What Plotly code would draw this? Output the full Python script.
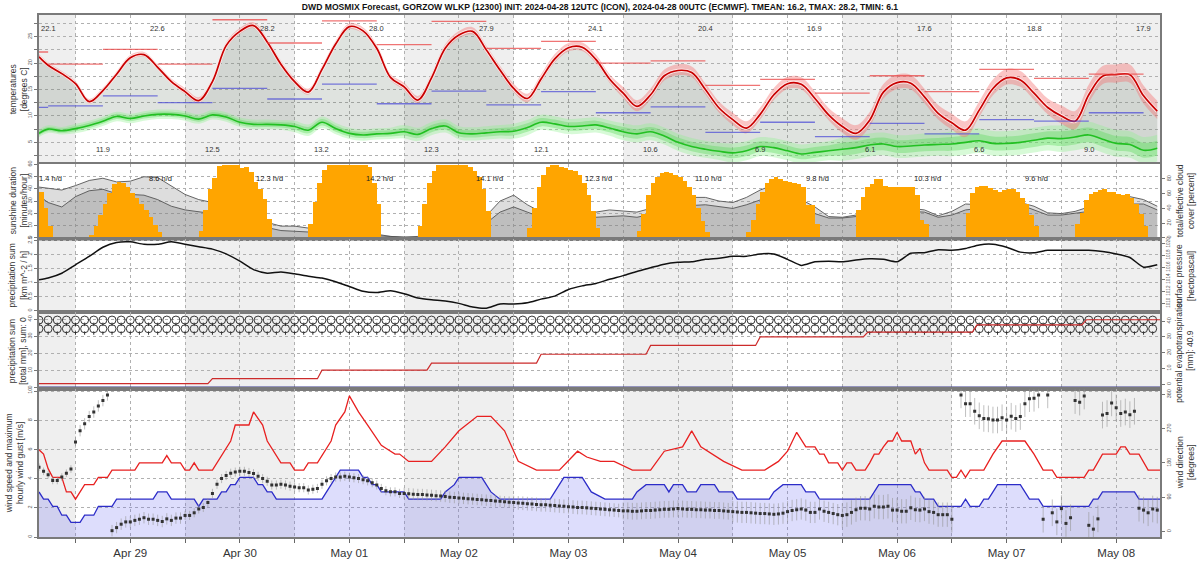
import numpy as np
import pandas as pd
import plotly.graph_objects as go
from plotly.subplots import make_subplots

# ---------------- time base ----------------
BASE = pd.Timestamp("2024-04-28 00:00")
START_H, END_H = 16, 261.6
grid_hours = [16] + list(range(18, 262, 3))

# ---------------- panel 1: temperatures ----------------
temp = [21.2, 19.6, 18.0, 16.1, 12.7, 14.8, 17.9, 21.0, 21.6, 19.2,
        16.5, 14.6, 12.9, 16.5, 23.3, 26.0, 27.1, 24.0, 19.8, 16.5,
        14.5, 18.8, 23.6, 26.9, 26.1, 22.8, 17.3, 15.5, 13.0, 17.2,
        22.8, 25.3, 26.0, 22.5, 18.7, 15.2, 13.3, 17.0, 20.8, 22.9,
        23.0, 20.7, 17.0, 14.3, 11.8, 14.0, 17.6, 18.6, 18.2, 15.0,
        11.5, 9.3, 7.7, 10.3, 14.0, 16.1, 16.0, 13.3, 10.2, 8.0,
        6.7, 9.2, 14.5, 16.3, 16.2, 13.6, 10.5, 8.7, 7.3, 11.1,
        15.2, 17.2, 16.8, 14.3, 11.6, 10.0, 9.0, 14.0, 17.5, 17.8,
        17.8, 13.8, 10.9]
dewpoint = [6.7, 7.5, 7.2, 7.6, 8.2, 9.0, 9.9, 9.5, 10.0, 10.3,
            10.3, 10.0, 9.4, 10.2, 9.8, 8.8, 8.4, 8.4, 8.3, 8.0,
            7.3, 8.8, 7.6, 6.7, 6.4, 6.6, 6.7, 7.0, 6.5, 7.6,
            8.1, 6.8, 6.6, 6.8, 7.0, 7.1, 7.8, 8.8, 8.5, 8.0,
            8.1, 8.3, 7.7, 7.0, 6.6, 7.0, 6.2, 5.0, 4.2, 3.7,
            3.3, 3.0, 3.4, 4.2, 4.0, 3.4, 2.8, 3.1, 3.4, 3.7,
            4.0, 4.5, 4.7, 4.2, 4.3, 4.5, 4.6, 4.7, 5.0, 5.3,
            4.8, 4.8, 5.0, 5.4, 5.8, 5.7, 6.0, 6.4, 5.6, 4.8,
            4.6, 3.5, 3.9]
# ensemble half-spread per calendar day (Apr 28 .. May 08)
temp_spread_day = [0.4, 0.4, 0.5, 0.5, 0.6, 0.7, 0.9, 1.0, 1.2, 1.3, 1.5]
dew_spread_day = [0.4, 0.5, 0.5, 0.6, 0.7, 0.8, 0.9, 1.0, 1.2, 1.3, 1.4]

# 12-hourly max (red) and min (blue) segments, segment k covers [6+12k, 18+12k] h
tmax12 = [22.1, 19.8, 22.6, 19.8, 28.2, 23.8, 28.0, 23.5, 27.9, 22.8, 24.1,
          20.0, 20.4, 15.8, 16.9, 14.3, 17.6, 14.6, 18.8, 17.1, 17.9]
tmin12 = [11.6, 11.9, 13.8, 12.5, 15.2, 13.2, 16.0, 12.3, 14.7, 12.1, 14.6,
          10.6, 11.7, 6.9, 8.8, 6.1, 8.6, 6.6, 9.3, 9.0, 10.6]

# ---------------- panel 2: sunshine / cloud ----------------
sun_start = [16, 27, 51, 75, 99, 123, 147, 171, 195, 219, 243]
sun_minutes = [
    [38, 25, 10],
    [3, 10, 19, 28, 37, 44, 46, 45, 42, 37, 33, 28, 23, 17, 11, 5],
    [6, 23, 40, 49, 59, 60, 60, 60, 60, 57, 58, 54, 46, 40, 32, 16],
    [12, 30, 45, 56, 60, 60, 60, 60, 60, 60, 60, 60, 60, 58, 45, 28],
    [10, 28, 45, 55, 60, 60, 60, 60, 60, 60, 60, 58, 55, 50, 40, 22],
    [8, 25, 42, 52, 58, 60, 60, 58, 57, 56, 55, 52, 45, 35, 22, 8],
    [6, 20, 35, 45, 50, 53, 54, 53, 52, 50, 47, 42, 35, 25, 14, 5],
    [5, 15, 28, 38, 45, 48, 50, 48, 47, 46, 45, 44, 42, 27, 27, 12],
    [23, 34, 42, 44, 48, 48, 43, 42, 42, 42, 42, 42, 42, 35, 15, 12],
    [21, 37, 42, 43, 43, 41, 39, 38, 39, 40, 40, 38, 33, 28, 19, 10],
    [12, 21, 31, 36, 38, 39, 40, 38, 38, 36, 35, 36, 33, 28, 20, 10],
]
sun_daily = [1.4, 8.6, 12.3, 14.2, 14.1, 12.3, 11.0, 9.8, 10.3, 9.6]
cloud_total = [69, 67, 65, 71, 78, 81, 76, 77, 83, 82,
               71, 59, 52, 48, 40, 32, 26, 21, 16, 16,
               13, 10, 8, 7, 6, 5, 2, 1, 2, 3,
               5, 8, 15, 30, 50, 58, 45, 35, 30, 30,
               32, 35, 38, 37, 35, 40, 45, 50, 55, 55,
               50, 48, 55, 65, 72, 68, 52, 42, 29, 28,
               31, 35, 38, 40, 40, 38, 30, 36, 46, 45,
               48, 50, 48, 43, 34, 33, 36, 42, 48, 52,
               56, 52, 43]
cloud_eff = [57, 48, 42, 56, 64, 66, 60, 59, 58, 52,
             43, 38, 36, 33, 28, 22, 18, 14, 10, 9,
             8, 6, 5, 4, 3, 3, 1, 1, 1, 2,
             3, 5, 10, 20, 35, 42, 35, 28, 25, 25,
             27, 28, 30, 30, 28, 32, 36, 40, 44, 45,
             42, 40, 45, 52, 58, 56, 48, 33, 27, 27,
             29, 32, 34, 35, 36, 35, 28, 31, 38, 40,
             42, 44, 45, 38, 31, 31, 33, 36, 40, 43,
             46, 46, 38]

# ---------------- panel 3: pressure ----------------
pressure = [1013.9, 1014.2, 1015.0, 1016.4, 1017.8, 1019.3, 1020.1, 1020.2, 1019.8, 1019.8,
            1020.2, 1019.8, 1019.4, 1019.0, 1018.2, 1017.0, 1015.6, 1015.0, 1015.2, 1014.9,
            1014.5, 1014.2, 1013.6, 1012.8, 1012.0, 1011.8, 1012.1, 1011.6, 1010.9, 1010.6,
            1010.4, 1010.0, 1009.4, 1009.2, 1009.9, 1009.9, 1010.1, 1010.7, 1011.2, 1012.3,
            1012.9, 1013.3, 1014.0, 1014.6, 1015.3, 1015.9, 1016.5, 1016.8, 1016.9, 1017.3,
            1017.5, 1017.8, 1017.8, 1018.2, 1018.2, 1017.3, 1016.3, 1016.9, 1017.0, 1016.9,
            1017.2, 1017.4, 1017.3, 1016.9, 1018.3, 1018.4, 1018.9, 1018.8, 1019.1, 1019.7,
            1019.8, 1019.3, 1018.5, 1018.4, 1018.8, 1018.8, 1018.8, 1018.8, 1018.6, 1018.2,
            1017.6, 1016.0, 1016.4]
precip_rate_hours = [16, 261.6]
precip_rate = [0.0, 0.0]

# ---------------- panel 4: precipitation sum / evapotranspiration ----------------
precip_sum_hours = [16, 261.6]
precip_sum = [0.0, 0.0]
evap_step_hours = [53, 77, 101, 125, 149, 173, 196.6, 220.5, 244.5]
evap_levels = [0.3, 3.5, 8.9, 13.4, 19.0, 24.6, 30.0, 33.1, 37.6, 40.9]
symbol_hours = list(range(16, 261, 2))

# ---------------- panel 5: wind ----------------
wind_hours = [16, 17, 18, 19, 20, 21, 22, 23, 25, 26, 28, 29, 32, 33, 41, 42, 44, 45, 50, 51,
              52, 55, 56, 57, 58, 59, 60, 63, 64, 65, 66, 67, 68, 78, 79, 80, 81, 82, 86, 87,
              88, 89, 90, 91, 96, 97, 104, 105, 107, 108, 113, 114, 115, 117, 128, 129, 130, 131, 135, 136,
              137, 140, 146, 147, 149, 153, 154, 155, 157, 158, 160, 161, 164, 165, 168, 169, 176, 177, 179, 183,
              184, 186, 187, 198, 199, 200, 207, 208, 209, 210, 212, 213, 218, 219, 220, 222, 223, 224, 225, 226,
              231, 232, 233, 235, 236, 246, 247, 248, 249, 256, 257, 261.6]
wind_ms = [3.1, 2.6, 2.6, 2.1, 2.1, 1.5, 1.5, 1.0, 1.0, 1.5, 1.5, 2.1, 2.1, 2.6, 2.6, 3.1, 3.1, 2.6, 2.6, 2.1,
           2.6, 2.6, 3.1, 3.1, 3.6, 3.6, 4.1, 4.1, 3.6, 3.6, 3.1, 3.1, 2.6, 2.6, 3.1, 3.6, 4.1, 4.6, 4.6, 4.1,
           4.1, 3.6, 3.6, 3.1, 3.1, 2.6, 2.6, 3.1, 3.6, 4.1, 4.1, 3.6, 3.1, 2.6, 2.6, 3.1, 3.6, 4.1, 4.1, 3.6,
           3.1, 2.6, 2.6, 3.1, 3.6, 3.6, 3.1, 3.6, 3.6, 3.1, 3.1, 3.6, 3.6, 3.1, 3.1, 2.6, 2.6, 3.1, 3.6, 3.6,
           3.1, 3.1, 2.6, 2.6, 3.1, 3.6, 3.6, 3.1, 3.1, 2.6, 2.6, 2.1, 2.1, 2.6, 2.1, 2.1, 2.6, 2.6, 3.1, 3.6,
           3.6, 3.1, 2.6, 2.6, 2.1, 2.1, 2.6, 2.6, 3.1, 3.1, 2.6, 2.6]
gust_hours = [16, 17, 18, 19, 21, 22, 23, 24, 25, 26, 28, 29, 31, 32, 37, 38, 43, 44, 45, 47,
              48, 49, 50, 51, 54, 56, 58, 59, 62, 63, 65, 66, 69, 71, 72, 74, 75, 77, 80, 81,
              83, 84, 86, 88, 91, 92, 94, 95, 97, 102, 105, 108, 112, 115, 118, 121, 125, 130, 134, 136,
              139, 142, 146, 150, 153, 157, 159, 161, 166, 170, 175, 178, 180, 182, 184, 186, 187, 188, 189, 191,
              192, 193, 194, 195, 197, 198, 199, 200, 201, 202, 203, 204, 205, 207, 208, 209, 210, 211, 215, 216,
              217, 218, 219, 220, 223, 225, 227, 232, 234, 236, 238, 239, 245, 246, 247, 249, 252, 253, 254, 255,
              257, 259, 261.6]
gust_ms = [6.0, 5.7, 4.7, 4.1, 4.1, 3.1, 3.1, 2.6, 3.1, 3.6, 3.6, 4.1, 4.1, 4.6, 4.6, 5.1, 5.1, 5.6, 5.1, 5.1,
           4.6, 4.6, 5.1, 4.6, 4.6, 5.6, 6.6, 7.7, 7.7, 8.6, 7.7, 6.6, 5.1, 5.1, 4.6, 4.6, 5.1, 5.1, 6.6, 7.7,
           8.6, 9.7, 8.6, 7.7, 6.3, 6.1, 5.7, 5.7, 5.2, 5.2, 6.2, 7.3, 8.3, 8.3, 7.3, 5.2, 4.6, 4.6, 5.9, 5.5,
           5.2, 5.2, 4.6, 4.6, 5.9, 6.2, 7.3, 6.2, 5.2, 4.6, 4.6, 5.2, 5.9, 7.2, 6.2, 6.2, 5.7, 5.7, 5.1, 5.1,
           4.6, 5.1, 5.1, 4.6, 4.6, 5.1, 5.7, 5.7, 6.2, 6.6, 6.6, 7.2, 6.6, 6.6, 5.7, 6.1, 5.1, 4.6, 4.6, 4.1,
           4.1, 4.6, 4.1, 4.6, 4.6, 5.7, 6.6, 6.6, 5.7, 4.6, 4.6, 4.1, 4.1, 4.6, 4.6, 5.7, 5.7, 6.2, 6.2, 5.7,
           5.7, 4.6, 4.6]
wdir_hours = list(range(16, 217)) + list(range(218, 262))
wdir_deg = [169, 158, 149, 134, 134, 143, 153, 164, 235, 265, 283, 302, 314, 330, 344, 359, 2, 10, 19, 25,
            25, 29, 32, 36, 32, 32, 29, 26, 33, 29, 35, 35, 42, 42, 49, 59, 63, 76, 100, 124,
            139, 147, 153, 156, 158, 158, 155, 152, 145, 139, 132, 122, 122, 124, 122, 119, 117, 115, 115, 109,
            111, 113, 124, 133, 139, 143, 143, 145, 143, 141, 139, 136, 133, 128, 122, 113, 107, 104, 104, 100,
            # H96..H182
            100, 99, 98, 97, 97, 96, 95, 94, 93, 92, 90, 89,
            88, 87, 86, 85, 84, 83, 82, 81, 80, 79, 78, 77,
            76, 75, 74, 73, 72, 71, 70, 70, 69, 68, 67, 66,
            65, 64, 63, 63, 62, 61, 60, 59, 58, 57, 56, 55,
            54, 54, 53, 53, 54, 55, 55, 56, 57, 58, 58, 59,
            60, 59, 58, 58, 57, 57, 56, 56, 55, 55, 54, 53,
            52, 51, 50, 50, 49, 48, 47, 47, 46, 45, 46, 48,
            52, 55, 57,
            # H183..H216
            59, 56, 50, 50, 59, 53, 50, 47, 44, 42, 44, 50, 57, 61, 61, 59, 66, 64, 64, 66,
            56, 56, 53, 53, 62, 57, 56, 59, 52, 50, 44, 44, 44, 32,
            # H218..H261
            359, 336, 336, 316, 304, 297, 296, 293, 293, 299, 293, 303, 297, 302, 336, 349, 350, 359, 32, 359,
            49, 25, 60, 21, 36, 344, 340, 356, 16, 6, 33, 306, 310, 338, 325, 310, 314, 307, 316, 61,
            56, 49, 59, 56]
wdir_spread_day = [10, 15, 12, 12, 15, 18, 22, 28, 32, 35, 35]

# ---------------- labels / text ----------------
title = ("DWD MOSMIX Forecast, GORZOW WLKP (12300) INIT: 2024-04-28 12UTC (ICON), "
         "2024-04-28 00UTC (ECMWF). TMEAN: 16.2, TMAX: 28.2, TMIN: 6.1")

assert len(temp) == len(grid_hours) == len(dewpoint) == len(cloud_total) == len(cloud_eff) == len(pressure)
assert len(wind_hours) == len(wind_ms) and len(gust_hours) == len(gust_ms)
assert len(wdir_hours) == len(wdir_deg), (len(wdir_hours), len(wdir_deg))


def ts(hours):
    return [(BASE + pd.Timedelta(hours=float(h))).strftime("%Y-%m-%d %H:%M:%S") for h in hours]


def t1(h):
    return ts([h])[0]


def day_of(h):
    return min(int(h // 24), 10)


FONT = "Liberation Sans"
GRID = "#b0b0b0"
DASH = "3px,3px"

fig = make_subplots(rows=5, cols=1, shared_xaxes=True, vertical_spacing=0,
                    row_heights=[152, 77, 75, 79, 151],
                    specs=[[{"secondary_y": False}], [{"secondary_y": True}], [{"secondary_y": True}],
                           [{"secondary_y": True}], [{"secondary_y": True}]])

X = ts(grid_hours)
tsp = [temp_spread_day[day_of(h)] for h in grid_hours]
dsp = [dew_spread_day[day_of(h)] for h in grid_hours]

# ---- panel 1 ----
fig.add_trace(go.Scatter(x=X, y=dewpoint, mode="lines", line=dict(width=0, shape="spline"),
                         hoverinfo="skip"), row=1, col=1)
fig.add_trace(go.Scatter(x=X, y=temp, mode="lines", line=dict(width=0, shape="spline"),
                         fill="tonexty", fillcolor="rgba(95,115,95,0.20)", hoverinfo="skip"), row=1, col=1)
fig.add_trace(go.Scatter(x=X, y=[d - 1.8 * s for d, s in zip(dewpoint, dsp)], mode="lines",
                         line=dict(width=0, shape="spline"), hoverinfo="skip"), row=1, col=1)
fig.add_trace(go.Scatter(x=X, y=[d + 1.8 * s for d, s in zip(dewpoint, dsp)], mode="lines",
                         line=dict(width=0, shape="spline"), fill="tonexty",
                         fillcolor="rgba(140,240,140,0.35)", hoverinfo="skip"), row=1, col=1)
fig.add_trace(go.Scatter(x=X, y=[d - s for d, s in zip(dewpoint, dsp)], mode="lines",
                         line=dict(width=0, shape="spline"), hoverinfo="skip"), row=1, col=1)
fig.add_trace(go.Scatter(x=X, y=[d + s for d, s in zip(dewpoint, dsp)], mode="lines",
                         line=dict(width=0, shape="spline"), fill="tonexty",
                         fillcolor="rgba(80,215,80,0.35)", hoverinfo="skip"), row=1, col=1)
fig.add_trace(go.Scatter(x=X, y=[t - s for t, s in zip(temp, tsp)], mode="lines",
                         line=dict(width=0, shape="spline"), hoverinfo="skip"), row=1, col=1)
fig.add_trace(go.Scatter(x=X, y=[t + 1.3 * s for t, s in zip(temp, tsp)], mode="lines",
                         line=dict(width=0, shape="spline"), fill="tonexty",
                         fillcolor="rgba(245,110,110,0.40)", hoverinfo="skip"), row=1, col=1)
fig.add_trace(go.Scatter(x=X, y=dewpoint, mode="lines", line=dict(width=1.6, color="#22c022", shape="spline"),
                         hoverinfo="skip"), row=1, col=1)
fig.add_trace(go.Scatter(x=X, y=temp, mode="lines", line=dict(width=3.5, color="rgba(255,235,235,0.9)", shape="spline"),
                         hoverinfo="skip"), row=1, col=1)
fig.add_trace(go.Scatter(x=X, y=temp, mode="lines", line=dict(width=1.7, color="#c80000", shape="spline"),
                         hoverinfo="skip"), row=1, col=1)


def seg_xy(vals):
    xs, ys = [], []
    for k, v in enumerate(vals):
        s, e = 6 + 12 * k, 18 + 12 * k
        s = max(s, START_H)
        xs += [t1(s), t1(e), None]
        ys += [v, v, None]
    return xs, ys


sx, sy = seg_xy(tmax12)
fig.add_trace(go.Scatter(x=sx, y=sy, mode="lines", line=dict(width=1.3, color="rgba(235,70,70,0.75)"),
                         hoverinfo="skip"), row=1, col=1)
sx, sy = seg_xy(tmin12)
fig.add_trace(go.Scatter(x=sx, y=sy, mode="lines", line=dict(width=1.3, color="rgba(80,80,215,0.75)"),
                         hoverinfo="skip"), row=1, col=1)

annotations = []
for k in range(0, len(tmax12), 2):
    annotations.append(dict(x=t1(18 + 12 * k), y=0.95, xref="x", yref="y domain", text=f"{tmax12[k]:.1f}",
                            showarrow=False, font=dict(size=7.5, color="#333", family=FONT)))
for k in range(1, len(tmin12), 2):
    annotations.append(dict(x=t1(18 + 12 * k), y=0.05, xref="x", yref="y domain", text=f"{tmin12[k]:.1f}",
                            showarrow=False, font=dict(size=7.5, color="#333", family=FONT)))

# ---- panel 2 ----
fig.add_trace(go.Scatter(x=X, y=cloud_total, mode="lines", line=dict(width=0.9, color="#555"),
                         fill="tozeroy", fillcolor="rgba(150,150,150,0.32)", hoverinfo="skip"),
              row=2, col=1, secondary_y=False)
fig.add_trace(go.Scatter(x=X, y=cloud_eff, mode="lines", line=dict(width=0.9, color="#555"),
                         fill="tozeroy", fillcolor="rgba(120,120,120,0.30)", hoverinfo="skip"),
              row=2, col=1, secondary_y=False)
bx, by = [], []
for s, vals in zip(sun_start, sun_minutes):
    for i, v in enumerate(vals):
        bx.append(t1(s + i + 0.5))
        by.append(v)
fig.add_trace(go.Bar(x=bx, y=by, width=3600000, marker=dict(color="#ffa500", line=dict(width=0)),
                     hoverinfo="skip"), row=2, col=1, secondary_y=True)
for k, v in enumerate(sun_daily):
    annotations.append(dict(x=t1(18.6 + 24 * k), y=0.89, xref="x", yref="y3 domain", text=f"{v:.1f} h/d",
                            showarrow=False, font=dict(size=7.5, color="#222", family=FONT)))

# ---- panel 3 ----
fig.add_trace(go.Scatter(x=ts(precip_rate_hours), y=precip_rate, mode="lines", line=dict(width=0),
                         hoverinfo="skip"), row=3, col=1, secondary_y=False)
fig.add_trace(go.Scatter(x=X, y=pressure, mode="lines", line=dict(width=1.5, color="#111", shape="spline", smoothing=0.6),
                         hoverinfo="skip"), row=3, col=1, secondary_y=True)

# ---- panel 4 ----
for row_y, stem_y in [(39.5, 37.0), (34.4, 31.9)]:
    fig.add_trace(go.Scatter(x=ts(symbol_hours), y=[row_y] * len(symbol_hours), mode="markers",
                             marker=dict(symbol="circle-open", size=8, color="#222", line=dict(width=0.9)),
                             hoverinfo="skip"), row=4, col=1, secondary_y=False)
    fig.add_trace(go.Scatter(x=ts(symbol_hours), y=[stem_y] * len(symbol_hours), mode="markers",
                             marker=dict(symbol="line-ns", size=2.5, color="#222", line=dict(width=0.9, color="#222")),
                             hoverinfo="skip"), row=4, col=1, secondary_y=False)
fig.add_trace(go.Scatter(x=ts(precip_sum_hours), y=precip_sum, mode="lines", line=dict(width=2.2, color="#3a3a8c"),
                         hoverinfo="skip"), row=4, col=1, secondary_y=False)
ex, ey = [START_H], [evap_levels[0]]
for i, h in enumerate(evap_step_hours):
    ex += [h, h + 1]
    ey += [evap_levels[i], evap_levels[i + 1]]
ex.append(END_H)
ey.append(evap_levels[-1])
fig.add_trace(go.Scatter(x=ts(ex), y=ey, mode="lines", line=dict(width=1.2, color="#cc2b2b"),
                         hoverinfo="skip"), row=4, col=1, secondary_y=True)

# ---- panel 5 ----
fig.add_trace(go.Scatter(x=ts(wind_hours), y=wind_ms, mode="lines", line=dict(width=1.3, color="#2c2cc8"),
                         fill="tozeroy", fillcolor="rgba(100,100,240,0.22)", hoverinfo="skip"),
              row=5, col=1, secondary_y=False)
fig.add_trace(go.Scatter(x=ts(gust_hours), y=gust_ms, mode="lines", line=dict(width=1.3, color="#e82020"),
                         hoverinfo="skip"), row=5, col=1, secondary_y=False)
fig.add_trace(go.Scatter(x=ts(wdir_hours), y=wdir_deg, mode="markers",
                         marker=dict(symbol="square", size=3, color="#333"),
                         error_y=dict(type="data", array=[wdir_spread_day[day_of(h)] for h in wdir_hours],
                                      color="rgba(150,150,150,0.6)", thickness=1, width=0),
                         hoverinfo="skip"), row=5, col=1, secondary_y=True)

# ---------------- day shading ----------------
shapes = []
for d in range(0, 11, 2):
    x0 = max(24 * d, START_H)
    x1 = min(24 * (d + 1), END_H)
    shapes.append(dict(type="rect", xref="x", yref="paper", x0=t1(x0), x1=t1(x1), y0=0, y1=1,
                       fillcolor="#efefef", line=dict(width=0), layer="below"))

# ---------------- axes ----------------
tick_hours = [24 + 12 * i for i in range(0, 20)]
tick_text = ["" if (h % 24 == 0) else (BASE + pd.Timedelta(hours=h)).strftime("%b %d") for h in tick_hours]
for r in range(1, 6):
    fig.update_xaxes(row=r, col=1, domain=[0, 1], range=[t1(START_H), t1(END_H)], tickvals=ts(tick_hours),
                     ticktext=tick_text,
                     showgrid=True, gridcolor=GRID, griddash=DASH, gridwidth=0.8,
                     showline=True, linecolor="#7a7a7a", linewidth=1.5, mirror=True,
                     ticks="outside" if r == 5 else "", ticklen=4, tickcolor="#666",
                     tickfont=dict(size=11.5, color="#333", family=FONT), zeroline=False)

yfont = dict(size=5.5, color="#555", family=FONT)
common_y = dict(tickangle=-90, ticks="outside", ticklen=3, tickcolor="#777", zeroline=False,
                showline=True, linecolor="#7a7a7a", linewidth=1.5, mirror=True)
gridy = dict(showgrid=True, gridcolor=GRID, griddash=DASH, gridwidth=0.8)
fig.update_yaxes(row=1, col=1, range=[0.98, 29.1], tickvals=[2.5 * i for i in range(1, 12)],
                 ticktext=[("" if i % 2 else str(int(2.5 * i))) for i in range(1, 12)],
                 tickfont=yfont, **gridy, **common_y)
# row 2: primary = cloud (right), secondary = sunshine (left, overlays so bars are on top)
fig.update_yaxes(row=2, col=1, secondary_y=False, range=[-1.3, 100.9], side="right",
                 tickvals=[0, 20, 40, 60, 80], showgrid=False, tickfont=yfont, **common_y)
fig.update_yaxes(row=2, col=1, secondary_y=True, range=[-0.8, 60.6], side="left",
                 tickvals=[0, 10, 20, 30, 40, 50, 60], tickfont=yfont, **gridy, **common_y)
fig.update_yaxes(row=3, col=1, secondary_y=False, range=[-0.05, 2.57], tickvals=[0, 0.5, 1, 1.5, 2, 2.5],
                 tickfont=yfont, **gridy, **common_y)
fig.update_yaxes(row=3, col=1, secondary_y=True, range=[1008.54, 1020.7],
                 tickvals=[1010, 1012, 1014, 1016, 1018, 1020], showgrid=False,
                 tickfont=dict(size=4.6, color="#555", family=FONT), **common_y)
fig.update_yaxes(row=4, col=1, secondary_y=False, range=[-1.0, 44.1], tickvals=[0, 10, 20, 30, 40],
                 tickfont=yfont, **gridy, **common_y)
fig.update_yaxes(row=4, col=1, secondary_y=True, range=[-3.3, 45.7], tickvals=[0, 10, 20, 30, 40],
                 showgrid=False, tickfont=yfont, **common_y)
fig.update_yaxes(row=5, col=1, secondary_y=False, range=[0.0, 10.15], tickvals=[0, 2, 4, 6, 8, 10],
                 tickfont=yfont, **gridy, **common_y)
fig.update_yaxes(row=5, col=1, secondary_y=True, range=[-14.7, 373.5], tickvals=[0, 90, 180, 270, 360],
                 showgrid=False, tickfont=yfont, **common_y)

# ---------------- axis titles ----------------
PLOT_L, PLOT_W, PLOT_B, PLOT_H = 39, 1121, 548, 534


def px_to_paper_x(px):
    return (px - PLOT_L) / PLOT_W


def py_to_paper_y(py):
    return (PLOT_B - py) / PLOT_H


left_titles = [("temperatures<br>[degrees C]", 90, 18),
               ("sunshine duration<br>[minutes/hour]", 204.5, 18),
               ("precipitation sum<br>[km m^-2 / h]", 280.5, 18),
               ("precipitation sum<br>[total mm], sum: 0", 357.5, 18),
               ("wind speed and maximum<br>hourly wind gust [m/s]", 472.5, 14)]
right_titles = [("total/effective cloud<br>cover [percent]", 204.5, 1185),
                ("surface pressure<br>[hectopascal]", 280.5, 1185),
                ("potential evapotranspiration<br>[mm]: 40.9", 357.5, 1185),
                ("wind direction<br>[degrees]", 472.5, 1185)]
for txt, py, px in left_titles + right_titles:
    annotations.append(dict(x=px_to_paper_x(px), y=py_to_paper_y(py), xref="paper", yref="paper", text=txt,
                            textangle=-90, showarrow=False, xanchor="center", yanchor="middle",
                            font=dict(size=8.5, color="#333", family=FONT)))

fig.update_layout(
    width=1200, height=571,
    margin=dict(l=39, r=40, t=14, b=23),
    paper_bgcolor="white", plot_bgcolor="white",
    showlegend=False, bargap=0,
    title=dict(text=f"<b>{title}</b>", x=0.5, xanchor="center", y=1 - 7 / 571, yanchor="middle",
               font=dict(size=8.6, color="#111", family=FONT)),
    shapes=shapes, annotations=annotations,
)

fig.write_html("out.html", config={"displayModeBar": False},
               post_script="document.body.style.margin='0';")
